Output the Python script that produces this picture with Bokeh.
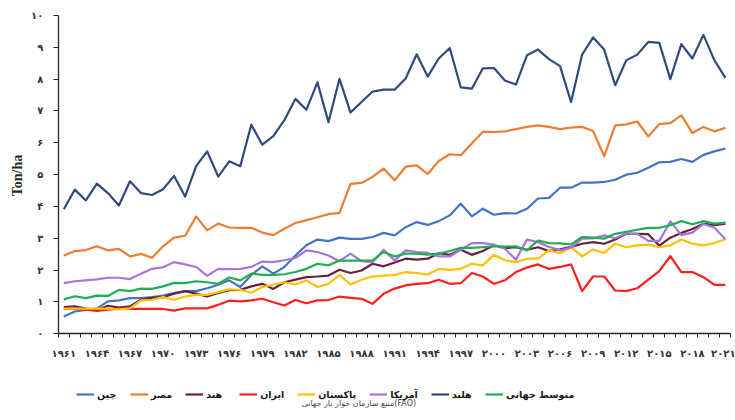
import math
from bokeh.plotting import figure
from bokeh.models import FixedTicker, Legend, LegendItem, Label, LinearAxis
from bokeh.embed import file_html
from bokeh.resources import INLINE

years = list(range(1961, 2022))

china = [0.54, 0.70, 0.75, 0.79, 1.02, 1.05, 1.12, 1.12, 1.15, 1.20, 1.28, 1.34, 1.34, 1.43, 1.54, 1.68,
         1.47, 1.85, 2.12, 1.89, 2.10, 2.46, 2.78, 2.96, 2.91, 3.02, 2.98, 2.98, 3.04, 3.17, 3.09,
         3.35, 3.51, 3.42, 3.54, 3.72, 4.09, 3.69, 3.93, 3.74, 3.79, 3.78, 3.93, 4.25, 4.27,
         4.59, 4.59, 4.75, 4.75, 4.77, 4.84, 5.00, 5.06, 5.22, 5.39, 5.40, 5.49, 5.40, 5.62, 5.73, 5.82]

egypt = [2.46, 2.60, 2.63, 2.75, 2.62, 2.67, 2.43, 2.51, 2.39, 2.75, 3.02, 3.08, 3.69, 3.25, 3.46, 3.34,
         3.33, 3.33, 3.18, 3.10, 3.30, 3.48, 3.57, 3.66, 3.76, 3.80,
         4.71, 4.74, 4.93, 5.19, 4.82,
         5.25, 5.29, 5.02, 5.43, 5.64, 5.61, 5.98, 6.35, 6.34, 6.36, 6.43, 6.50, 6.55, 6.50, 6.43,
         6.48, 6.50, 6.37, 5.58, 6.55, 6.58, 6.67, 6.20, 6.59, 6.62, 6.86, 6.31, 6.50, 6.36, 6.47]

india = [0.84, 0.86, 0.79, 0.75, 0.88, 0.82, 0.86, 1.07, 1.13, 1.15, 1.26, 1.34, 1.26, 1.17, 1.28, 1.37,
         1.38, 1.49, 1.57, 1.41, 1.62, 1.70, 1.78, 1.80, 1.83, 2.01, 1.91, 1.99, 2.20, 2.12, 2.24,
         2.36, 2.33, 2.36, 2.53, 2.48, 2.64, 2.48, 2.60, 2.78, 2.69, 2.72, 2.64, 2.72, 2.60,
         2.65, 2.73, 2.83, 2.88, 2.83, 2.96, 3.14, 3.14, 3.13, 2.77, 3.02, 3.17, 3.29, 3.46, 3.41, 3.46]

iran = [0.79, 0.78, 0.76, 0.72, 0.76, 0.78, 0.78, 0.78, 0.78, 0.78, 0.73, 0.80, 0.80, 0.80, 0.91, 1.04,
        1.02, 1.05, 1.10, 0.99, 0.89, 1.06, 0.96, 1.05, 1.06, 1.17, 1.13, 1.10, 0.94, 1.26,
        1.42, 1.52, 1.57, 1.59, 1.70, 1.57, 1.59, 1.91, 1.80, 1.57, 1.68, 1.94, 2.08, 2.18, 2.04,
        2.10, 2.18, 1.34, 1.80, 1.80, 1.36, 1.34, 1.43, 1.70, 1.97, 2.44, 1.94, 1.94, 1.78, 1.54, 1.54]

pakistan = [0.79, 0.79, 0.79, 0.79, 0.79, 0.77, 0.80, 1.05, 1.07, 1.15, 1.07, 1.17, 1.22, 1.22, 1.31, 1.40,
            1.38, 1.29, 1.47, 1.54, 1.62, 1.55, 1.68, 1.47, 1.57, 1.85, 1.55, 1.70, 1.80, 1.83, 1.85,
            1.94, 1.91, 1.86, 2.04, 2.01, 2.04, 2.20, 2.15, 2.48, 2.31, 2.25, 2.36, 2.36, 2.62,
            2.53, 2.72, 2.43, 2.65, 2.54, 2.83, 2.72, 2.78, 2.80, 2.72, 2.78, 2.96, 2.83, 2.78, 2.85, 2.97]

usa = [1.59, 1.65, 1.68, 1.71, 1.76, 1.76, 1.72, 1.89, 2.04, 2.09, 2.25, 2.18, 2.10, 1.82, 2.04, 2.03,
       2.04, 2.10, 2.27, 2.25, 2.31, 2.38, 2.62, 2.57, 2.46, 2.28, 2.52, 2.28, 2.25, 2.64, 2.30,
       2.62, 2.57, 2.54, 2.43, 2.43, 2.64, 2.85, 2.85, 2.80, 2.67, 2.33, 2.96, 2.88, 2.73,
       2.62, 2.71, 2.99, 3.00, 3.09, 3.00, 3.15, 3.14, 2.92, 2.92, 3.53, 3.10, 3.18, 3.45, 3.33, 2.97]

netherlands = [3.91, 4.53, 4.19, 4.72, 4.42, 4.03, 4.79, 4.42, 4.36, 4.54, 4.96, 4.31, 5.27, 5.73, 4.94, 5.42,
               5.26, 6.57, 5.94, 6.21, 6.71, 7.38, 7.04, 7.90, 6.65, 8.01, 6.95, 7.28, 7.61, 7.67, 7.67,
               8.02, 8.78, 8.08, 8.65, 8.98, 7.74, 7.70, 8.34, 8.35, 7.96, 7.83, 8.75, 8.93, 8.63,
               8.41, 7.28, 8.77, 9.31, 8.93, 7.81, 8.59, 8.77, 9.17, 9.14, 8.00, 9.10, 8.65, 9.39, 8.59, 8.04]

world = [1.08, 1.18, 1.12, 1.20, 1.19, 1.38, 1.34, 1.42, 1.41, 1.49, 1.60, 1.59, 1.65, 1.62, 1.57, 1.77,
         1.68, 1.89, 1.85, 1.85, 1.87, 1.94, 2.04, 2.20, 2.15, 2.30, 2.30, 2.30, 2.31, 2.57, 2.43,
         2.52, 2.52, 2.49, 2.52, 2.60, 2.70, 2.70, 2.72, 2.75, 2.74, 2.75, 2.62, 2.93, 2.85,
         2.84, 2.81, 3.04, 3.02, 2.99, 3.14, 3.20, 3.27, 3.33, 3.33, 3.41, 3.54, 3.44, 3.54, 3.46, 3.49]

series_names = ["چین", "مصر", "هند", "ایران", "پاکستان", "آمریکا", "هلند", "متوسط جهانی"]
series_values = [china, egypt, india, iran, pakistan, usa, netherlands, world]
series_colors = ["#4472C4", "#ED7D31", "#6B1E3E", "#FF1E1E", "#FFC000", "#A775DB", "#2F4B7C", "#1FAE52"]

y_ticks = list(range(0, 11))
x_label_years = years[::3]
y_title = "Ton/ha"
source_text = "منبع سازمان خوار بار جهانی(FAO)"

FA = str.maketrans("0123456789", "۰۱۲۳۴۵۶۷۸۹")


def fa(n):
    return str(n).translate(FA)


x_lo, x_hi = years[0] - 0.5, years[-1] + 0.5
AR_FONT = "DejaVu Sans"

# The frame fills the whole canvas; axes are pinned inside it so that
# legend and source note (annotations) are not clipped.
p = figure(width=735, height=420, x_range=(1955.26, 2021.91), y_range=(-2.724, 10.471),
           output_backend="svg", toolbar_location=None,
           x_axis_location=None, y_axis_location=None,
           min_border_left=0, min_border_right=0, min_border_top=0, min_border_bottom=0)
p.outline_line_color = None
p.grid.visible = False
p.background_fill_color = "white"
p.border_fill_color = "white"

yax = LinearAxis(fixed_location=x_lo, bounds=(0, 10))
yax.ticker = FixedTicker(ticks=y_ticks)
yax.major_label_overrides = {t: fa(t) for t in y_ticks}
yax.major_tick_out = 5
yax.major_tick_in = 0
yax.minor_tick_out = 0
yax.minor_tick_in = 0
yax.axis_line_color = "#262626"
yax.axis_line_width = 1.3
yax.major_tick_line_color = "#262626"
yax.major_label_text_font = "DejaVu Sans"
yax.major_label_text_font_size = "10px"
yax.major_label_text_font_style = "bold"
yax.major_label_text_color = "#333333"
yax.major_label_standoff = 10
p.add_layout(yax, "left")

xax = LinearAxis(fixed_location=0, bounds=(x_lo, x_hi))
xax.ticker = FixedTicker(ticks=x_label_years,
                         minor_ticks=[y - 0.5 for y in years] + [x_hi])
xax.major_label_overrides = {y: fa(y) for y in x_label_years}
xax.major_tick_out = 0
xax.major_tick_in = 0
xax.minor_tick_out = 4
xax.minor_tick_in = 0
xax.minor_tick_line_color = "#262626"
xax.axis_line_color = "#262626"
xax.axis_line_width = 1.3
xax.major_label_text_font = "DejaVu Sans"
xax.major_label_text_font_size = "10px"
xax.major_label_text_font_style = "bold"
xax.major_label_text_color = "#333333"
xax.major_label_standoff = 10
p.add_layout(xax, "below")

items = []
for name, vals, col in zip(series_names, series_values, series_colors):
    r = p.line(years, vals, line_color=col, line_width=2.2, line_join="round")
    items.append(LegendItem(label=name, renderers=[r]))

legend = Legend(items=items, orientation="horizontal", location=(76, 20))
legend.border_line_color = None
legend.background_fill_alpha = 0
legend.padding = 2
legend.margin = 0
legend.spacing = 13
legend.glyph_width = 18
legend.glyph_height = 12
legend.label_standoff = 3
legend.label_text_font = AR_FONT
legend.label_text_font_style = "bold"
legend.label_text_font_size = "9.5px"
legend.label_text_color = "#1a1a1a"
p.add_layout(legend, "center")

ylab = Label(x=17, y=245, x_units="screen", y_units="screen", text=y_title, angle=math.pi / 2,
             text_font="Liberation Serif", text_font_style="bold", text_font_size="14px",
             text_color="#262626", text_align="center", text_baseline="middle")
p.add_layout(ylab)

src = Label(x=301, y=17, x_units="screen", y_units="screen", text=source_text,
            text_font=AR_FONT, text_font_size="8px", text_color="#444444",
            text_align="left", text_baseline="middle")
p.add_layout(src)

open("out.html", "w").write(file_html(p, INLINE))
